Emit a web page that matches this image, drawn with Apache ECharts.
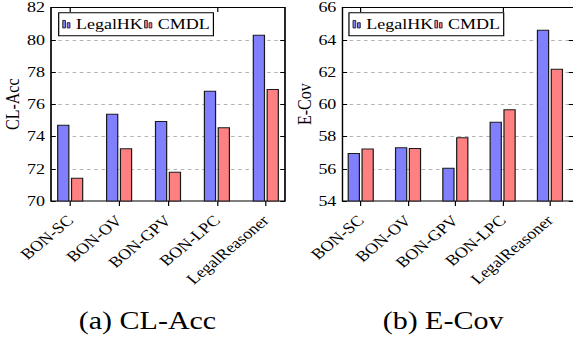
<!DOCTYPE html>
<html>
<head>
<meta charset="utf-8">
<script src="https://cdn.jsdelivr.net/npm/echarts@6/dist/echarts.min.js"></script>
<style>
    html, body { margin: 0; padding: 0; background: #fff; overflow: hidden; }
    #divBars { width: 478px; height: 340px; transform: scaleX(1.2); transform-origin: 0 0; }
</style>
</head>
<body>
<div id="divBars"></div>
<script>
var categories = ['BON-SC', 'BON-OV', 'BON-GPV', 'BON-LPC', 'LegalReasoner'];
var accLegalHK = [74.72, 75.40, 74.95, 76.82, 80.29];
var accCMDL = [71.44, 73.26, 71.81, 74.56, 76.93];
var covLegalHK = [56.97, 57.32, 56.06, 58.90, 64.60];
var covCMDL = [57.24, 57.28, 57.94, 59.67, 62.18];
var accTicks = [70, 82, 2];
var covTicks = [54, 66, 2];

var FONT = "'Liberation Serif', 'Times New Roman', serif";
var BLUE = '#8080ff';
var RED = '#ff8080';
var ICON = 'path://M0,0H3V10H0Z M5,3H8V10H5Z';

var bars;
var barsOption;

function frameAxes(gridIndex, ticks, name) {
    // left axis with labels + dashed grid, right axis with ticks only
    return [
        {
            gridIndex: gridIndex, type: 'value', position: 'left',
            min: ticks[0], max: ticks[1], interval: ticks[2],
            name: name, nameLocation: 'middle', nameGap: 17,
            nameTextStyle: { fontFamily: FONT, fontSize: 16, color: '#000' },
            axisLine: { show: true, lineStyle: { color: '#000', width: 1 } },
            axisTick: { show: true, inside: true, length: 4, lineStyle: { color: '#000' } },
            axisLabel: { fontFamily: FONT, fontSize: 15, color: '#000', margin: 5 },
            splitLine: { show: true, showMinLine: false, showMaxLine: false,
                lineStyle: { color: '#b4b4b4', type: [3, 3], width: 1 } }
        },
        {
            gridIndex: gridIndex, type: 'value', position: 'right',
            min: ticks[0], max: ticks[1], interval: ticks[2],
            axisLine: { show: true, lineStyle: { color: '#000', width: 1 } },
            axisTick: { show: true, inside: true, length: 4, lineStyle: { color: '#000' } },
            axisLabel: { show: false },
            splitLine: { show: false }
        }
    ];
}

function barAxesX(gridIndex) {
    return [
        {
            gridIndex: gridIndex, type: 'category', position: 'bottom', data: categories,
            axisLine: { show: false },
            axisTick: { show: true, alignWithLabel: true, length: 5, lineStyle: { color: '#000' } },
            axisLabel: { interval: 0, rotate: 45, fontFamily: FONT, fontSize: 15, color: '#000', margin: 17 }
        },
        {
            gridIndex: gridIndex, type: 'category', position: 'top', data: categories,
            axisLine: { show: false },
            axisTick: { show: true, alignWithLabel: true, inside: true, length: 5, lineStyle: { color: '#000' } },
            axisLabel: { show: false }
        }
    ];
}

function barSeries(axisX, axisY, name, color, values) {
    return {
        name: name, type: 'bar',
        xAxisIndex: axisX, yAxisIndex: axisY,
        data: values,
        barWidth: 10.3, barGap: '12%',
        itemStyle: { color: color, borderColor: '#1a1a1a', borderWidth: 1 },
        emphasis: { disabled: true },
        z: 3
    };
}

function legendAt(left) {
    return {
        left: left, top: 12.7, orient: 'horizontal',
        data: [
            { name: 'LegalHK', icon: ICON, itemStyle: { color: BLUE, borderColor: '#1a1a1a', borderWidth: 0.8 } },
            { name: 'CMDL', icon: ICON, itemStyle: { color: RED, borderColor: '#1a1a1a', borderWidth: 0.8 } }
        ],
        itemWidth: 6, itemHeight: 10, itemGap: 1,
        padding: [4, 3],
        backgroundColor: '#fff', borderColor: '#000', borderWidth: 1,
        textStyle: { fontFamily: FONT, fontSize: 15, color: '#000', lineHeight: 15 },
        selectedMode: false
    };
}

function bars_init() {
    var chartDom = document.getElementById('divBars');
    bars = echarts.init(chartDom, null, { renderer: 'svg' });
    var xAxes = [
        { gridIndex: 0, type: 'value', show: false, min: 0, max: 1 }
    ].concat(barAxesX(1)).concat([
        { gridIndex: 2, type: 'value', show: false, min: 0, max: 1 }
    ]).concat(barAxesX(3));
    var yAxes = frameAxes(0, accTicks, 'CL-Acc').concat([
        { gridIndex: 1, type: 'value', show: false, min: accTicks[0], max: accTicks[1] }
    ]).concat(frameAxes(2, covTicks, 'E-Cov')).concat([
        { gridIndex: 3, type: 'value', show: false, min: covTicks[0], max: covTicks[1] }
    ]);
    barsOption = {
        animation: false,
        grid: [
            { left: 42.5, top: 7, width: 195, height: 194, show: true, borderColor: '#000', borderWidth: 1 },
            { left: 38.1, top: 7, width: 203.8, height: 194 },
            { left: 285.3, top: 7, width: 195, height: 194, show: true, borderColor: '#000', borderWidth: 1 },
            { left: 280.9, top: 7, width: 203.8, height: 194 }
        ],
        legend: [legendAt(48.9), legendAt(290.8)],
        xAxis: xAxes,
        yAxis: yAxes,
        series: [
            barSeries(1, 2, 'LegalHK', BLUE, accLegalHK),
            barSeries(1, 2, 'CMDL', RED, accCMDL),
            barSeries(4, 5, 'LegalHK', BLUE, covLegalHK),
            barSeries(4, 5, 'CMDL', RED, covCMDL)
        ],
        graphic: [
            { type: 'text', x: 122.9, y: 320, style: { text: '(a) CL-Acc', font: '25px ' + FONT, fill: '#000', textAlign: 'center', textVerticalAlign: 'middle' } },
            { type: 'text', x: 369.2, y: 320, style: { text: '(b) E-Cov', font: '25px ' + FONT, fill: '#000', textAlign: 'center', textVerticalAlign: 'middle' } }
        ]
    };
    bars.setOption(barsOption);
}

bars_init();
</script>
</body>
</html>
